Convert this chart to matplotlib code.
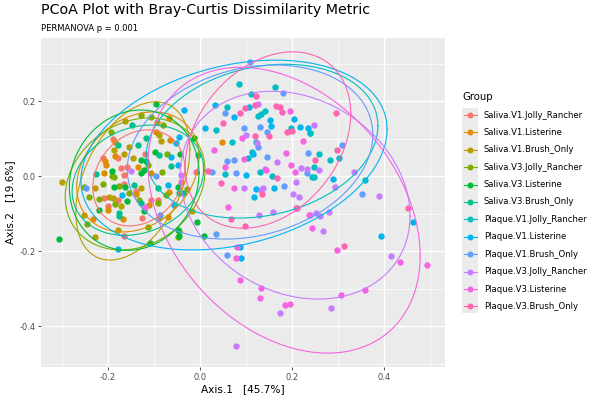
import numpy as np
import matplotlib
matplotlib.use("Agg")
import matplotlib.pyplot as plt
from matplotlib.lines import Line2D
from matplotlib.patches import Rectangle

groups = ["Saliva.V1.Jolly_Rancher", "Saliva.V1.Listerine", "Saliva.V1.Brush_Only",
          "Saliva.V3.Jolly_Rancher", "Saliva.V3.Listerine", "Saliva.V3.Brush_Only",
          "Plaque.V1.Jolly_Rancher", "Plaque.V1.Listerine", "Plaque.V1.Brush_Only",
          "Plaque.V3.Jolly_Rancher", "Plaque.V3.Listerine", "Plaque.V3.Brush_Only"]
colors = ["#F8766D", "#DE8C00", "#B79F00", "#7CAE00", "#00BA38", "#00C08B",
          "#00BFC4", "#00B4F0", "#619CFF", "#C77CFF", "#F564E3", "#FF64B0"]

# PCoA coordinates (Axis.1, Axis.2) per group
s_v1_jr = [(-0.19, 0.10), (-0.21, 0.047), (-0.179, 0.047), (-0.159, 0.025), (-0.172, 0.021),
           (-0.165, 0.003), (-0.209, -0.058), (-0.178, -0.064), (-0.107, -0.064), (-0.092, -0.064),
           (-0.125, -0.113), (-0.166, -0.16), (-0.165, -0.02), (-0.14, -0.04), (-0.12, 0.06), (-0.2, -0.08)]
s_v1_li = [(-0.067, 0.155), (-0.096, 0.118), (-0.093, 0.145), (-0.185, 0.09), (-0.065, 0.096),
           (-0.207, 0.041), (-0.185, 0.053), (-0.135, 0.025), (-0.204, 0.029), (-0.208, 0.007),
           (-0.107, 0.007), (-0.138, -0.047), (-0.067, -0.042), (-0.11, -0.077), (-0.20, -0.091),
           (-0.167, -0.115), (-0.233, -0.115), (-0.069, -0.11), (0.047, 0.091)]
s_v1_bo = [(-0.162, 0.147), (-0.09, 0.109), (-0.188, 0.069), (-0.154, 0.077), (-0.085, 0.093),
           (-0.166, 0.058), (-0.146, 0.047), (-0.301, -0.015), (-0.228, -0.031), (-0.128, -0.033),
           (-0.198, -0.056), (-0.19, -0.058), (-0.172, -0.08), (-0.253, -0.104), (-0.178, -0.144),
           (-0.228, -0.163), (-0.018, -0.093), (-0.046, -0.146)]
s_v3_jr = [(-0.128, 0.163), (-0.107, 0.157), (-0.193, 0.118), (-0.072, 0.059), (-0.114, 0.029),
           (-0.188, -0.003), (-0.083, 0.011), (-0.081, 0.136), (-0.253, -0.03), (-0.21, -0.022),
           (-0.192, 0.0), (-0.175, -0.026), (-0.154, -0.046), (-0.219, -0.061), (-0.241, -0.055),
           (-0.185, -0.075), (-0.132, -0.064), (-0.092, -0.073), (-0.073, -0.051), (-0.246, -0.129),
           (-0.088, -0.113), (-0.114, -0.135), (-0.047, -0.162), (-0.028, -0.035)]
s_v3_li = [(-0.095, 0.191), (-0.098, 0.065), (-0.128, 0.043), (-0.117, 0.041), (-0.191, 0.013),
           (-0.128, 0.009), (-0.122, 0.016), (-0.186, -0.03), (-0.163, -0.03), (-0.159, -0.067),
           (-0.122, -0.093), (-0.048, -0.029), (-0.219, -0.091), (-0.306, -0.169), (-0.109, -0.179),
           (-0.048, -0.144), (-0.012, 0.101), (-0.044, 0.058), (-0.006, -0.122), (-0.045, -0.159),
           (0.009, -0.159)]
s_v3_bo = [(-0.148, 0.137), (-0.178, 0.083), (-0.134, 0.083), (-0.117, 0.101), (-0.088, 0.056),
           (-0.063, 0.027), (-0.226, 0.005), (-0.144, -0.024), (-0.128, -0.073), (-0.092, -0.033),
           (-0.175, -0.099), (-0.175, -0.107), (-0.004, 0.056), (-0.046, -0.046), (-0.037, -0.046)]
p_v1_jr = [(0.086, 0.245), (0.163, 0.237), (0.112, 0.219), (0.058, 0.185), (0.127, 0.161),
           (0.133, 0.165), (0.141, 0.173), (0.034, 0.123), (0.07, 0.091), (0.121, 0.091),
           (0.114, 0.064), (0.104, 0.047), (0.199, 0.127), (0.239, 0.114), (0.259, 0.059),
           (0.283, 0.043), (0.302, 0.049), (0.248, 0.025), (0.248, -0.002), (0.36, -0.011),
           (0.131, 0.011), (0.157, 0.001), (0.243, -0.002), (0.054, 0.005), (0.24, 0.115)]
p_v1_li = [(0.033, 0.19), (-0.034, 0.176), (-0.046, 0.105), (0.074, 0.158), (0.107, 0.183),
           (0.204, 0.151), (0.152, 0.149), (0.154, 0.134), (0.011, 0.129), (0.217, 0.13),
           (0.235, 0.127), (0.1, 0.003), (0.123, -0.035), (0.117, -0.057), (0.161, -0.031),
           (0.089, -0.218), (0.088, -0.189), (0.29, -0.008), (0.393, -0.16), (0.464, -0.123),
           (-0.052, 0.087), (-0.062, 0.051), (-0.048, 0.029), (-0.057, -0.077), (-0.069, -0.024),
           (-0.17, -0.051), (-0.178, -0.195), (0.115, 0.059)]
p_v1_bo = [(0.108, 0.303), (0.181, 0.221), (0.055, 0.167), (0.095, 0.127), (0.131, 0.13),
           (0.146, 0.118), (0.127, 0.078), (0.146, 0.051), (0.075, 0.043), (0.059, 0.041),
           (0.235, 0.061), (0.308, 0.082), (0.232, 0.007), (0.027, 0.011), (0.078, 0.009),
           (0.183, -0.026), (0.036, -0.155), (0.058, -0.211), (0.352, -0.048), (-0.248, -0.033),
           (-0.096, 0.0), (-0.087, -0.104)]
p_v3_jr = [(0.127, 0.192), (0.1, 0.109), (0.125, 0.089), (0.167, 0.038), (0.22, 0.022),
           (0.141, 0.019), (0.249, 0.136), (0.259, 0.016), (0.335, 0.011), (0.293, -0.03),
           (-0.042, 0.003), (0.232, 0.019), (0.096, -0.031), (0.132, -0.037), (0.138, -0.033),
           (0.209, -0.017), (0.203, -0.049), (0.215, -0.056), (0.239, -0.104), (0.128, -0.105),
           (0.159, -0.097), (0.252, -0.098), (0.262, -0.107), (0.281, -0.097), (0.267, -0.146),
           (0.389, -0.053), (0.415, -0.213), (0.284, -0.353), (0.175, -0.365), (0.078, -0.452),
           (-0.15, 0.013)]
p_v3_li = [(0.196, 0.174), (0.225, 0.093), (0.188, 0.062), (0.198, 0.03), (0.096, 0.045),
           (0.03, 0.069), (0.054, 0.024), (0.091, 0.101), (0.143, 0.017), (0.207, 0.01),
           (0.073, -0.033), (0.062, -0.082), (0.079, -0.218), (0.08, -0.189), (0.238, -0.104),
           (0.244, -0.139), (0.21, -0.085), (0.299, -0.197), (0.493, -0.238), (0.436, -0.23),
           (0.359, -0.305), (0.307, -0.316), (0.196, -0.341), (0.184, -0.345), (0.13, -0.326),
           (0.132, -0.298), (0.088, -0.278), (-0.12, -0.083)]
p_v3_bo = [(0.121, 0.214), (0.088, 0.167), (0.098, 0.181), (0.12, 0.189), (0.165, 0.187),
           (0.174, 0.183), (0.178, 0.17), (0.051, 0.142), (0.15, 0.107), (0.12, 0.107),
           (0.189, 0.118), (0.201, 0.12), (0.295, 0.167), (0.298, 0.069), (0.25, 0.043),
           (-0.009, 0.01), (0.017, 0.014), (0.046, -0.019), (0.135, -0.049), (0.211, -0.085),
           (0.067, -0.115), (0.098, -0.133), (0.167, -0.006), (0.313, -0.187), (0.452, -0.086),
           (-0.041, -0.017)]

points = [s_v1_jr, s_v1_li, s_v1_bo, s_v3_jr, s_v3_li, s_v3_bo,
          p_v1_jr, p_v1_li, p_v1_bo, p_v3_jr, p_v3_li, p_v3_bo]

# 95% ellipses: centre x, centre y, half-width, half-height, correlation
ell_cx = [-0.133, -0.135, -0.146, -0.141, -0.143, -0.135, 0.135, 0.074, 0.109, 0.207, 0.183, 0.148]
ell_cy = [-0.005, 0.011, -0.013, -0.021, -0.011, -0.011, 0.093, 0.056, 0.064, -0.051, -0.091, 0.096]
ell_w = [0.100, 0.133, 0.124, 0.152, 0.141, 0.143, 0.252, 0.333, 0.267, 0.250, 0.296, 0.180]
ell_h = [0.128, 0.160, 0.211, 0.176, 0.187, 0.147, 0.205, 0.253, 0.232, 0.277, 0.381, 0.235]
ell_r = [0.2, 0.25, 0.4, 0.2, 0.1, 0.2, 0.2, 0.27, 0.2, -0.2, -0.32, 0.3]

xticks = [-0.2, 0.0, 0.2, 0.4]
yticks = [-0.4, -0.2, 0.0, 0.2]

fig = plt.figure(figsize=(6, 4), dpi=100)
ax = fig.add_axes([41/600, 1-367/400, 404/600, 329/400])
ax.set_facecolor("#EBEBEB")
for s in ax.spines.values():
    s.set_visible(False)
ax.set_xlim(-0.3457, 0.533)
ax.set_ylim(-0.509, 0.368)
for v in [-0.3, -0.1, 0.1, 0.3, 0.5]:
    ax.axvline(v, color="white", lw=0.5, zorder=0)
for v in [-0.5, -0.3, -0.1, 0.1, 0.3]:
    ax.axhline(v, color="white", lw=0.5, zorder=0)
for v in xticks:
    ax.axvline(v, color="white", lw=1.0, zorder=0)
for v in yticks:
    ax.axhline(v, color="white", lw=1.0, zorder=0)
ax.set_xticks(xticks)
ax.set_xticklabels(["-0.2", "0.0", "0.2", "0.4"])
ax.set_yticks(yticks)
ax.set_yticklabels(["-0.4", "-0.2", "0.0", "0.2"])
ax.tick_params(length=2.5, width=0.6, color="#333333", labelsize=6, labelcolor="#4D4D4D", pad=1.5)

t = np.linspace(0, 2*np.pi, 300)
for i, g in enumerate(groups):
    arr = np.array(points[i])
    ax.scatter(arr[:, 0], arr[:, 1], s=21, color=colors[i], linewidths=0, zorder=3)
for i, g in enumerate(groups):
    W, H, r = ell_w[i], ell_h[i], ell_r[i]
    S = np.array([[W*W, r*W*H], [r*W*H, H*H]])
    L = np.linalg.cholesky(S)
    pts = L @ np.vstack([np.cos(t), np.sin(t)])
    ax.plot(ell_cx[i] + pts[0], ell_cy[i] + pts[1], color=colors[i], lw=0.8, zorder=4)

ax.set_xlabel("Axis.1   [45.7%]", fontsize=7.6, labelpad=2)
ax.set_ylabel("Axis.2   [19.6%]", fontsize=7.6, labelpad=3)

fig.text(41/600, 1-3/400, "PCoA Plot with Bray-Curtis Dissimilarity Metric", fontsize=10.3, va="top", ha="left")
fig.text(41/600, 1-24/400, "PERMANOVA p = 0.001", fontsize=6, va="top", ha="left")

# legend
fig.text(462/600, 1-97/400, "Group", fontsize=7.3, va="center", ha="left")
fig.add_artist(Rectangle((462/600, 1-313/400), 16/600, 205/400, transform=fig.transFigure,
                         facecolor="#EBEBEB", edgecolor="none"))
for i, g in enumerate(groups):
    yk = 1 - (115 + 17.4*i)/400
    fig.add_artist(Line2D([463.5/600, 476.5/600], [yk, yk], transform=fig.transFigure, color=colors[i], lw=0.8))
    fig.add_artist(Line2D([470/600], [yk], transform=fig.transFigure, color=colors[i], marker="o",
                          markersize=4.3, markeredgewidth=0))
    fig.text(484/600, yk, g, fontsize=6.1, va="center", ha="left")

fig.savefig("out.png", dpi=100)
